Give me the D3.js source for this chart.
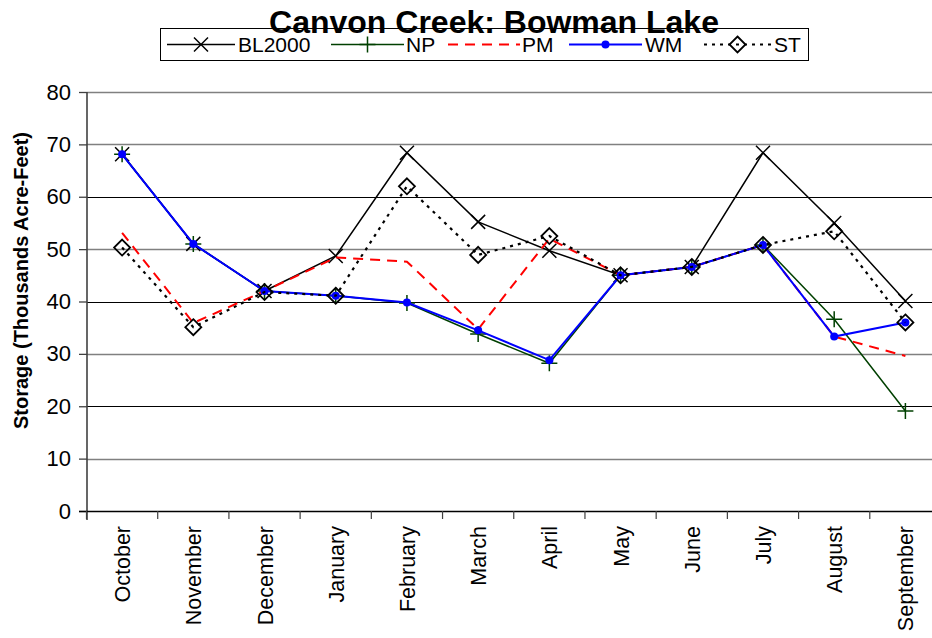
<!DOCTYPE html>
<html><head><meta charset="utf-8">
<script src="https://cdn.jsdelivr.net/npm/d3@7"></script>
<style>body{margin:0;background:#fff}svg{display:block;font-family:Arial,"Liberation Sans",sans-serif}</style>
</head><body><svg id="c" width="932" height="638"></svg>
<script>
const months=["October","November","December","January","February","March","April","May","June","July","August","September"];
const BL2000=[68.1,51,42,48.7,68.4,55.2,49.7,45,46.6,68.4,55,40.1];
const NP=[68.1,51,42,41.1,39.7,33.8,28.2,45,46.6,50.8,36.6,19.1];
const PM=[53.1,35.9,42,48.4,47.6,34.7,52,45,46.6,50.8,33.3,29.6];
const WM=[68.1,51,42,41.1,39.8,34.5,28.8,45,46.6,50.8,33.3,36];
const ST=[50.3,35.1,41.8,41.1,62,48.9,52.5,45,46.6,50.8,53.4,36];
const yTicks=[0,10,20,30,40,50,60,70,80];
const title="Canvon Creek: Bowman Lake";
const yLabel="Storage (Thousands Acre-Feet)";

const svg=d3.select("#c");
const L=87,R=941,T=92,B=511;
const x=d3.scaleBand().domain(months).range([L-0.5,R]).padding(0);
const cx=d=>x(d)+x.bandwidth()/2;
const y=d3.scaleLinear().domain([0,80]).range([B,T]);

// gridlines
svg.append("g").selectAll("line").data(yTicks.filter(d=>d>0)).join("line")
  .attr("x1",L).attr("x2",932).attr("y1",d=>Math.round(y(d))+0.5).attr("y2",d=>Math.round(y(d))+0.5)
  .attr("stroke",d=>(d===20||d===40||d===60)?"#000":"#808080").attr("stroke-width",d=>(d===20||d===40||d===60)?1:1.6);

// y axis
const ya=svg.append("g").attr("transform",`translate(${L},0)`)
  .call(d3.axisLeft(y).tickValues(yTicks).tickSize(8).tickPadding(8).tickSizeOuter(0));
ya.select(".domain").remove();
ya.append("line").attr("x1",0).attr("x2",0).attr("y1",T).attr("y2",B+9).attr("stroke","#404040").attr("stroke-width",1.6);
ya.selectAll(".tick line").attr("stroke","#404040").attr("stroke-width",1.3);
ya.selectAll(".tick text").attr("font-size",22).attr("font-family","Arial, Liberation Sans, sans-serif").attr("fill","#000");

// x axis
const xa=svg.append("g").attr("transform",`translate(0,${B})`);
xa.append("line").attr("x1",L-8).attr("x2",932).attr("y1",0.5).attr("y2",0.5).attr("stroke","#000").attr("stroke-width",1.3);
xa.selectAll("line.tk").data(months).join("line").attr("class","tk")
  .attr("x1",d=>x(d)).attr("x2",d=>x(d)).attr("y1",0).attr("y2",8).attr("stroke","#404040").attr("stroke-width",1.2);
xa.selectAll("text").data(months).join("text")
  .attr("transform",d=>`translate(${cx(d)+8},15) rotate(-90)`)
  .attr("text-anchor","end").attr("font-size",21.5).text(d=>d);

// axis label
svg.append("text").attr("transform",`translate(28,${(T+B)/2-21}) rotate(-90)`)
  .attr("text-anchor","middle").attr("font-size",20).attr("font-weight","bold").text(yLabel);

function marker(g,type,px,py,color){
  if(type==="x") g.append("path").attr("d",`M${px-7},${py-7}L${px+7},${py+7}M${px-7},${py+7}L${px+7},${py-7}`).attr("stroke",color).attr("stroke-width",1.5).attr("fill","none");
  else if(type==="plus") g.append("path").attr("d",`M${px-8},${py}H${px+8}M${px},${py-8}V${py+8}`).attr("stroke",color).attr("stroke-width",1.5).attr("fill","none");
  else if(type==="dot") g.append("circle").attr("cx",px).attr("cy",py).attr("r",4).attr("fill",color);
  else if(type==="diamond") g.append("path").attr("d",`M${px},${py-8}L${px+8},${py}L${px},${py+8}L${px-8},${py}Z`).attr("stroke",color).attr("stroke-width",1.8).attr("fill","none");
}

const series=[
  {name:"BL2000",data:BL2000,color:"#000",dash:null,w:1.5,m:"x",lx1:167,lx2:235,tx:238},
  {name:"NP",data:NP,color:"#004000",dash:null,w:1.5,m:"plus",lx1:331,lx2:404,tx:406},
  {name:"PM",data:PM,color:"#ff0000",dash:"10,7",w:2,m:null,lx1:448,lx2:520,tx:522},
  {name:"WM",data:WM,color:"#0000ff",dash:null,w:2,m:"dot",lx1:569,lx2:642,tx:645},
  {name:"ST",data:ST,color:"#000",dash:"3,5",w:2.2,m:"diamond",lx1:704,lx2:771,tx:774}
];
const line=d3.line().x((d,i)=>cx(months[i])).y(d=>y(d));
series.forEach(s=>{
  const g=svg.append("g");
  g.append("path").datum(s.data).attr("d",line).attr("fill","none").attr("stroke",s.color)
    .attr("stroke-width",s.w).attr("stroke-dasharray",s.dash);
  if(s.m) s.data.forEach((v,i)=>marker(g,s.m,cx(months[i]),y(v),s.color));
});

// legend
const lg=svg.append("g");
lg.append("rect").attr("x",160.5).attr("y",28.5).attr("width",648).attr("height",32).attr("fill","#fff").attr("stroke","#000").attr("stroke-width",1);
series.forEach(s=>{
  lg.append("line").attr("x1",s.lx1).attr("x2",s.lx2).attr("y1",44.5).attr("y2",44.5).attr("stroke",s.color)
    .attr("stroke-width",s.w).attr("stroke-dasharray",s.dash);
  if(s.m) marker(lg,s.m,(s.lx1+s.lx2)/2,44.5,s.color);
  lg.append("text").attr("x",s.tx).attr("y",52).attr("font-size",21).text(s.name);
});
// title drawn over the legend box top edge, as in the reference
svg.append("text").attr("x",494).attr("y",33).attr("text-anchor","middle")
  .attr("font-size",32).attr("font-weight","bold").text(title);
</script></body></html>
